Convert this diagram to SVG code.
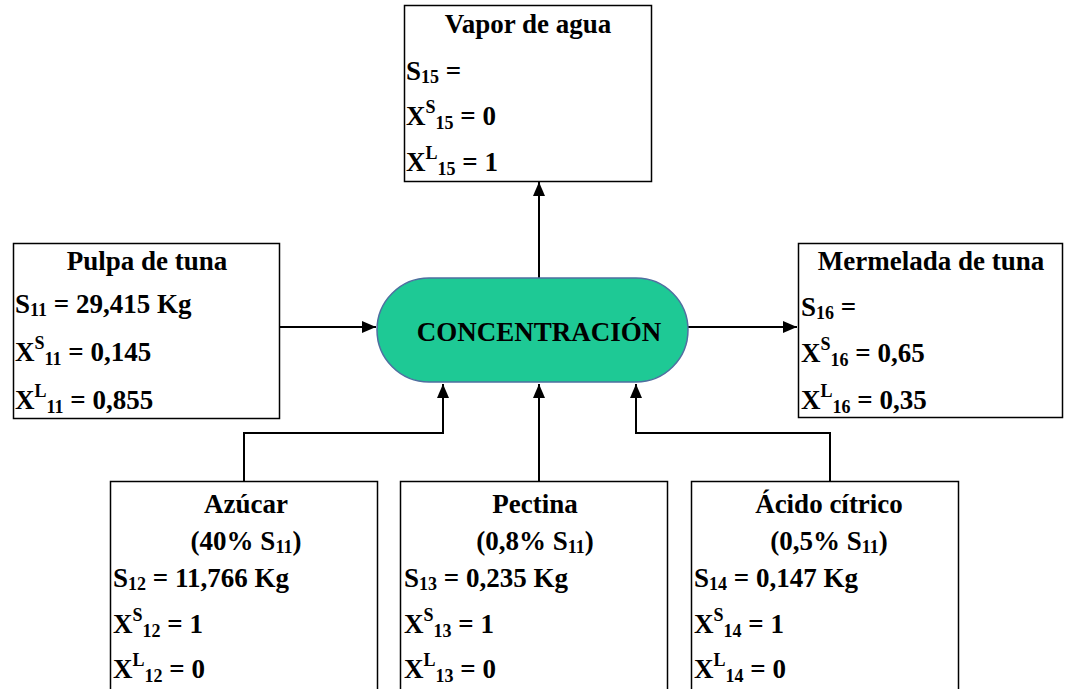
<svg xmlns="http://www.w3.org/2000/svg" width="1065" height="689" viewBox="0 0 1065 689" font-family="'Liberation Serif', 'DejaVu Serif', serif">
  <style>
    .box { fill: #ffffff; stroke: #000000; stroke-width: 1.5; }
    .pill { fill: #1ec995; stroke: #4f6fa0; stroke-width: 1.5; }
    .wire { fill: none; stroke: #000000; stroke-width: 2; }
    text { font-family: 'Liberation Serif', 'DejaVu Serif', serif; font-weight: bold; font-size: 27px; fill: #000000; }
    .c { text-anchor: middle; }
    .s { font-size: 18px; }
  </style>
  <defs>
    <marker id="arrow" markerUnits="userSpaceOnUse" markerWidth="14" markerHeight="12" refX="14" refY="6" orient="auto">
      <path d="M0,0 L14,6 L0,12 z" fill="#000000"/>
    </marker>
  </defs>

  <!-- connectors -->
  <g id="connectors">
    <line class="wire" x1="539" y1="278" x2="539" y2="182" marker-end="url(#arrow)"/>
    <line class="wire" x1="280" y1="327" x2="376" y2="327" marker-end="url(#arrow)"/>
    <line class="wire" x1="688" y1="327" x2="797" y2="327" marker-end="url(#arrow)"/>
    <polyline class="wire" points="244,481 244,433 443,433 443,384" marker-end="url(#arrow)"/>
    <line class="wire" x1="539" y1="481" x2="539" y2="384" marker-end="url(#arrow)"/>
    <polyline class="wire" points="830,481 830,433 636,433 636,384" marker-end="url(#arrow)"/>
  </g>

  <!-- process -->
  <g id="concentracion">
    <rect class="pill" x="377" y="278" width="311" height="104" rx="52" ry="52"/>
    <text class="c" x="539" y="341">CONCENTRACIÓN</text>
  </g>

  <!-- water vapour outlet -->
  <g id="vapor">
    <rect class="box" x="404.5" y="5.5" width="247" height="176"/>
    <text class="c" x="528" y="33">Vapor de agua</text>
    <text x="406" y="80">S<tspan class="s" dy="3">15</tspan><tspan dy="-3"> =</tspan></text>
    <text x="406" y="125">X<tspan class="s" dy="-12">S</tspan><tspan class="s" dy="16">15</tspan><tspan dy="-4"> = 0</tspan></text>
    <text x="406" y="171">X<tspan class="s" dy="-12">L</tspan><tspan class="s" dy="16">15</tspan><tspan dy="-4"> = 1</tspan></text>
  </g>

  <!-- pulp feed -->
  <g id="pulpa">
    <rect class="box" x="13.5" y="243.5" width="266" height="175"/>
    <text class="c" x="147" y="270">Pulpa de tuna</text>
    <text x="15" y="313">S<tspan class="s" dy="3">11</tspan><tspan dy="-3"> = 29,415 Kg</tspan></text>
    <text x="15" y="361">X<tspan class="s" dy="-12">S</tspan><tspan class="s" dy="16">11</tspan><tspan dy="-4"> = 0,145</tspan></text>
    <text x="15" y="409">X<tspan class="s" dy="-12">L</tspan><tspan class="s" dy="16">11</tspan><tspan dy="-4"> = 0,855</tspan></text>
  </g>

  <!-- jam product -->
  <g id="mermelada">
    <rect class="box" x="798.5" y="243.5" width="264" height="174"/>
    <text class="c" x="931" y="270">Mermelada de tuna</text>
    <text x="801" y="316">S<tspan class="s" dy="3">16</tspan><tspan dy="-3"> =</tspan></text>
    <text x="801" y="362">X<tspan class="s" dy="-12">S</tspan><tspan class="s" dy="16">16</tspan><tspan dy="-4"> = 0,65</tspan></text>
    <text x="801" y="409">X<tspan class="s" dy="-12">L</tspan><tspan class="s" dy="16">16</tspan><tspan dy="-4"> = 0,35</tspan></text>
  </g>

  <!-- sugar feed -->
  <g id="azucar">
    <rect class="box" x="110.5" y="481.5" width="267" height="215"/>
    <text class="c" x="246" y="513">Azúcar</text>
    <text class="c" x="246" y="550">(40% S<tspan class="s" dy="3">11</tspan><tspan dy="-3">)</tspan></text>
    <text x="113" y="587">S<tspan class="s" dy="3">12</tspan><tspan dy="-3"> = 11,766 Kg</tspan></text>
    <text x="113" y="633">X<tspan class="s" dy="-12">S</tspan><tspan class="s" dy="16">12</tspan><tspan dy="-4"> = 1</tspan></text>
    <text x="113" y="678">X<tspan class="s" dy="-12">L</tspan><tspan class="s" dy="16">12</tspan><tspan dy="-4"> = 0</tspan></text>
  </g>

  <!-- pectin feed -->
  <g id="pectina">
    <rect class="box" x="400.5" y="481.5" width="267" height="215"/>
    <text class="c" x="535" y="513">Pectina</text>
    <text class="c" x="535" y="550">(0,8% S<tspan class="s" dy="3">11</tspan><tspan dy="-3">)</tspan></text>
    <text x="404" y="587">S<tspan class="s" dy="3">13</tspan><tspan dy="-3"> = 0,235 Kg</tspan></text>
    <text x="404" y="633">X<tspan class="s" dy="-12">S</tspan><tspan class="s" dy="16">13</tspan><tspan dy="-4"> = 1</tspan></text>
    <text x="404" y="678">X<tspan class="s" dy="-12">L</tspan><tspan class="s" dy="16">13</tspan><tspan dy="-4"> = 0</tspan></text>
  </g>

  <!-- citric acid feed -->
  <g id="acido">
    <rect class="box" x="691.5" y="481.5" width="267" height="215"/>
    <text class="c" x="829" y="513">Ácido cítrico</text>
    <text class="c" x="829" y="550">(0,5% S<tspan class="s" dy="3">11</tspan><tspan dy="-3">)</tspan></text>
    <text x="694" y="587">S<tspan class="s" dy="3">14</tspan><tspan dy="-3"> = 0,147 Kg</tspan></text>
    <text x="694" y="633">X<tspan class="s" dy="-12">S</tspan><tspan class="s" dy="16">14</tspan><tspan dy="-4"> = 1</tspan></text>
    <text x="694" y="678">X<tspan class="s" dy="-12">L</tspan><tspan class="s" dy="16">14</tspan><tspan dy="-4"> = 0</tspan></text>
  </g>
</svg>
